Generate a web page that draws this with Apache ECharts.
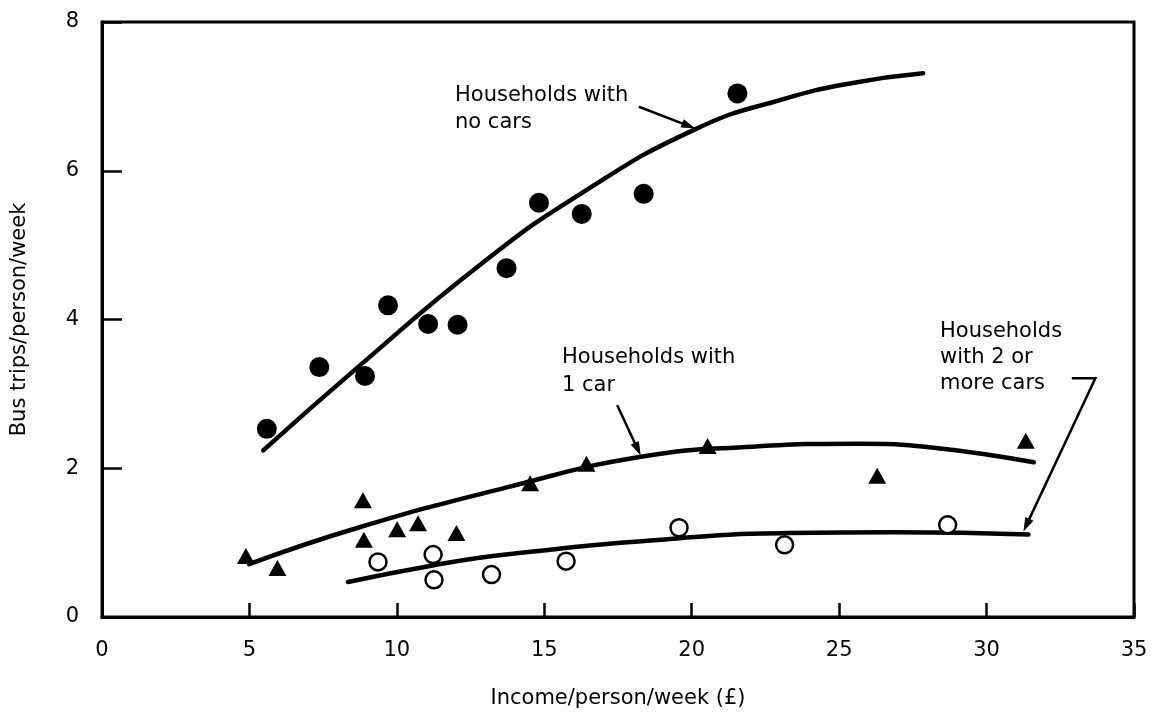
<!DOCTYPE html>
<html>
<head>
<meta charset="utf-8">
<title>Bus trips by income and car ownership</title>
<script src="https://cdn.jsdelivr.net/npm/echarts@6/dist/echarts.min.js"></script>
<style>
  html, body { margin: 0; padding: 0; background: #fff; }
  #chart { width: 1158px; height: 714px; }
</style>
</head>
<body>
<div id="chart"></div>
<script>
// Observed bus trips per person per week against income per person per week (£)
const noCarIncome  = [5.59, 7.37, 8.92, 9.70, 11.06, 12.06, 13.72, 14.82, 16.27, 18.37, 21.55];
const noCarTrips   = [2.53, 3.36, 3.24, 4.19, 3.94, 3.93, 4.69, 5.57, 5.42, 5.69, 7.04];

const oneCarIncome = [4.88, 5.95, 8.85, 8.88, 10.01, 10.72, 12.02, 14.52, 16.43, 20.54, 26.29, 31.33];
const oneCarTrips  = [0.82, 0.66, 1.57, 1.04, 1.18, 1.26, 1.13, 1.80, 2.06, 2.30, 1.90, 2.37];

const twoCarIncome = [9.36, 11.23, 11.26, 13.21, 15.74, 19.57, 23.15, 28.68];
const twoCarTrips  = [0.74, 0.84, 0.50, 0.57, 0.75, 1.20, 0.97, 1.24];

// Fitted trend curves
const noCarFitIncome  = [5.47, 8.68, 12.87, 16.27, 20.13, 23.08, 25.46, 27.85];
const noCarFitTrips   = [2.24, 3.36, 4.75, 5.70, 6.56, 6.96, 7.18, 7.31];

const oneCarFitIncome = [4.99, 8.68, 13.70, 18.23, 22.06, 25.70, 28.13, 31.60];
const oneCarFitTrips  = [0.71, 1.20, 1.74, 2.15, 2.29, 2.33, 2.28, 2.08];

const twoCarFitIncome = [8.34, 11.17, 13.70, 19.57, 23.27, 26.92, 31.42];
const twoCarFitTrips  = [0.47, 0.69, 0.84, 1.06, 1.13, 1.14, 1.11];

// Axis ticks
const xTicks = [0, 5, 10, 15, 20, 25, 30, 35];
const yTicks = [0, 2, 4, 6, 8];

// Label pointers (income, trips); each ends in an arrowhead at its last point
const pointerNoCar  = [[18.21, 6.86], [20.12, 6.57]];
const pointerOneCar = [[17.47, 2.85], [18.27, 2.17]];
const pointerTwoCar = [[32.89, 3.21], [33.69, 3.21], [31.25, 1.15]];

const zip = (xs, ys) => xs.map((x, i) => [x, ys[i]]);

const FONT = 'DejaVu Sans';
const INK = '#000';

const chart = echarts.init(document.getElementById('chart'), null, { renderer: 'canvas' });

const fitLine = (xs, ys) => ({
  type: 'line',
  data: zip(xs, ys),
  smooth: 0.5,
  showSymbol: false,
  symbol: 'none',
  lineStyle: { color: INK, width: 4.5, cap: 'round' },
  z: 3,
  silent: true
});

// Leader line with a filled arrowhead, projected through the cartesian axes
const pointer = (coords) => ({
  type: 'custom',
  coordinateSystem: 'cartesian2d',
  data: [coords[coords.length - 1]],
  silent: true,
  z: 5,
  renderItem: (params, api) => {
    const pts = coords.map(c => api.coord(c));
    const tip = pts[pts.length - 1];
    const prev = pts[pts.length - 2];
    const dx = tip[0] - prev[0], dy = tip[1] - prev[1];
    const len = Math.hypot(dx, dy);
    const ux = dx / len, uy = dy / len;
    const headLen = 14, headHalf = 4.5;
    const bx = tip[0] - ux * headLen, by = tip[1] - uy * headLen;
    const shaft = pts.slice(0, -1).concat([[bx + ux * 2, by + uy * 2]]);
    return {
      type: 'group',
      children: [
        {
          type: 'polyline',
          shape: { points: shaft },
          style: { stroke: INK, lineWidth: 2.5, fill: null, lineJoin: 'miter' }
        },
        {
          type: 'polygon',
          shape: { points: [tip, [bx - uy * headHalf, by + ux * headHalf], [bx + uy * headHalf, by - ux * headHalf]] },
          style: { fill: INK, stroke: null }
        }
      ]
    };
  }
});

chart.setOption({
  backgroundColor: '#fff',
  animation: false,
  textStyle: { fontFamily: FONT, color: INK },
  grid: {
    left: 102, top: 22, width: 1032, height: 603,
    show: true, borderColor: INK, borderWidth: 3, backgroundColor: 'transparent'
  },
  xAxis: {
    type: 'value',
    min: xTicks[0], max: xTicks[xTicks.length - 1], interval: 5,
    name: 'Income/person/week (£)',
    nameLocation: 'middle', nameGap: 71,
    nameTextStyle: { fontFamily: FONT, fontSize: 21, color: INK },
    axisLine: { show: true, lineStyle: { color: INK, width: 3 } },
    axisTick: { show: true, inside: true, length: 14, lineStyle: { color: INK, width: 2.5 } },
    axisLabel: { margin: 23, fontFamily: FONT, fontSize: 21, color: INK },
    splitLine: { show: false }
  },
  yAxis: {
    type: 'value',
    min: yTicks[0], max: yTicks[yTicks.length - 1], interval: 2,
    name: 'Bus trips/person/week',
    nameLocation: 'middle', nameGap: 72, nameRotate: 90,
    nameTextStyle: { fontFamily: FONT, fontSize: 21, color: INK },
    axisLine: { show: true, lineStyle: { color: INK, width: 3 } },
    axisTick: { show: true, inside: true, length: 20, lineStyle: { color: INK, width: 2.5 } },
    axisLabel: { margin: 23, fontFamily: FONT, fontSize: 21, color: INK },
    splitLine: { show: false }
  },
  series: [
    fitLine(noCarFitIncome, noCarFitTrips),
    fitLine(oneCarFitIncome, oneCarFitTrips),
    fitLine(twoCarFitIncome, twoCarFitTrips),
    {
      name: 'No cars',
      type: 'scatter',
      data: zip(noCarIncome, noCarTrips),
      symbol: 'circle', symbolSize: 20,
      itemStyle: { color: INK, opacity: 1 },
      z: 4
    },
    {
      name: '1 car',
      type: 'scatter',
      data: zip(oneCarIncome, oneCarTrips),
      symbol: 'triangle', symbolSize: [18, 16],
      itemStyle: { color: INK, opacity: 1 },
      z: 4
    },
    {
      name: '2 or more cars',
      type: 'scatter',
      data: zip(twoCarIncome, twoCarTrips),
      symbol: 'circle', symbolSize: 17,
      itemStyle: { color: '#fff', borderColor: INK, borderWidth: 2.5, opacity: 1 },
      z: 4
    },
    pointer(pointerNoCar),
    pointer(pointerOneCar),
    pointer(pointerTwoCar)
  ],
  graphic: [
    {
      type: 'text', left: 455, top: 82, z: 10,
      style: { text: 'Households with\nno cars', font: '21px "DejaVu Sans"', lineHeight: 27, fill: INK }
    },
    {
      type: 'text', left: 562, top: 344, z: 10,
      style: { text: 'Households with\n1 car', font: '21px "DejaVu Sans"', lineHeight: 28, fill: INK }
    },
    {
      type: 'text', left: 940, top: 319, z: 10,
      style: { text: 'Households\nwith 2 or\nmore cars', font: '21px "DejaVu Sans"', lineHeight: 26, fill: INK }
    }
  ]
});
</script>
</body>
</html>
